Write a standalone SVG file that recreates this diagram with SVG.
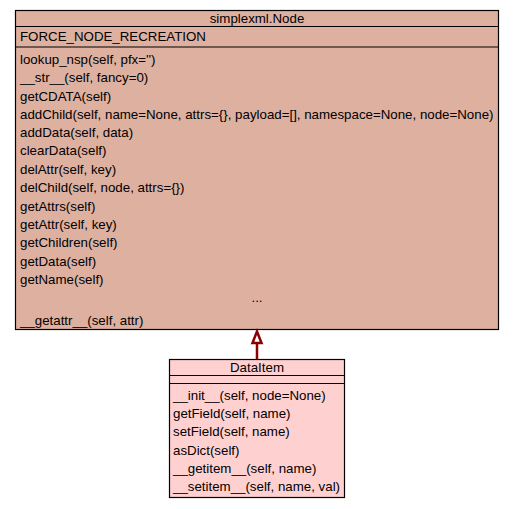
<svg xmlns="http://www.w3.org/2000/svg" width="515" height="509" viewBox="0 0 515 509">
<style>
text{font-family:"Liberation Sans",Arial,sans-serif;font-size:13.3px;fill:#000}
.c{text-anchor:middle}
.box{stroke:#000;stroke-width:1.2}
.sep{stroke:#000;stroke-width:1}
</style>
<rect width="515" height="509" fill="#fff"/>
<g id="node-simplexml-Node">
<rect class="box" x="15.5" y="10.5" width="483" height="319" fill="#deb0a0"/>
<line class="sep" x1="15.5" y1="26.5" x2="498.5" y2="26.5"/>
<line class="sep" x1="15.5" y1="47" x2="498.5" y2="47"/>
<text class="c" x="257" y="23">simplexml.Node</text>
<text x="20" y="41">FORCE_NODE_RECREATION</text>
<text x="20" y="64">lookup_nsp(self, pfx='')</text>
<text x="20" y="82">__str__(self, fancy=0)</text>
<text x="20" y="101">getCDATA(self)</text>
<text x="20" y="119">addChild(self, name=None, attrs={}, payload=[], namespace=None, node=None)</text>
<text x="20" y="137">addData(self, data)</text>
<text x="20" y="155">clearData(self)</text>
<text x="20" y="174">delAttr(self, key)</text>
<text x="20" y="192">delChild(self, node, attrs={})</text>
<text x="20" y="211">getAttrs(self)</text>
<text x="20" y="229">getAttr(self, key)</text>
<text x="20" y="247">getChildren(self)</text>
<text x="20" y="266">getData(self)</text>
<text x="20" y="284">getName(self)</text>
<text class="c" x="257" y="302">...</text>
<text x="20" y="325">__getattr__(self, attr)</text>
</g>
<g id="node-DataItem">
<rect class="box" x="169.5" y="359.5" width="175" height="138" fill="#ffd0d0"/>
<line class="sep" x1="169.5" y1="375.5" x2="344.5" y2="375.5"/>
<line class="sep" x1="169.5" y1="383.5" x2="344.5" y2="383.5"/>
<text class="c" x="257" y="372">DataItem</text>
<text x="173" y="400">__init__(self, node=None)</text>
<text x="173" y="418">getField(self, name)</text>
<text x="173" y="436">setField(self, name)</text>
<text x="173" y="455">asDict(self)</text>
<text x="173" y="473">__getitem__(self, name)</text>
<text x="173" y="491">__setitem__(self, name, val)</text>
</g>
<g id="connectors">
<line x1="257" y1="359" x2="257" y2="343" stroke="#8b0000" stroke-width="2.5"/>
<polygon points="257,331.5 252.5,343 261.5,343" fill="#fff" stroke="#8b0000" stroke-width="2.5"/>
</g>
</svg>
